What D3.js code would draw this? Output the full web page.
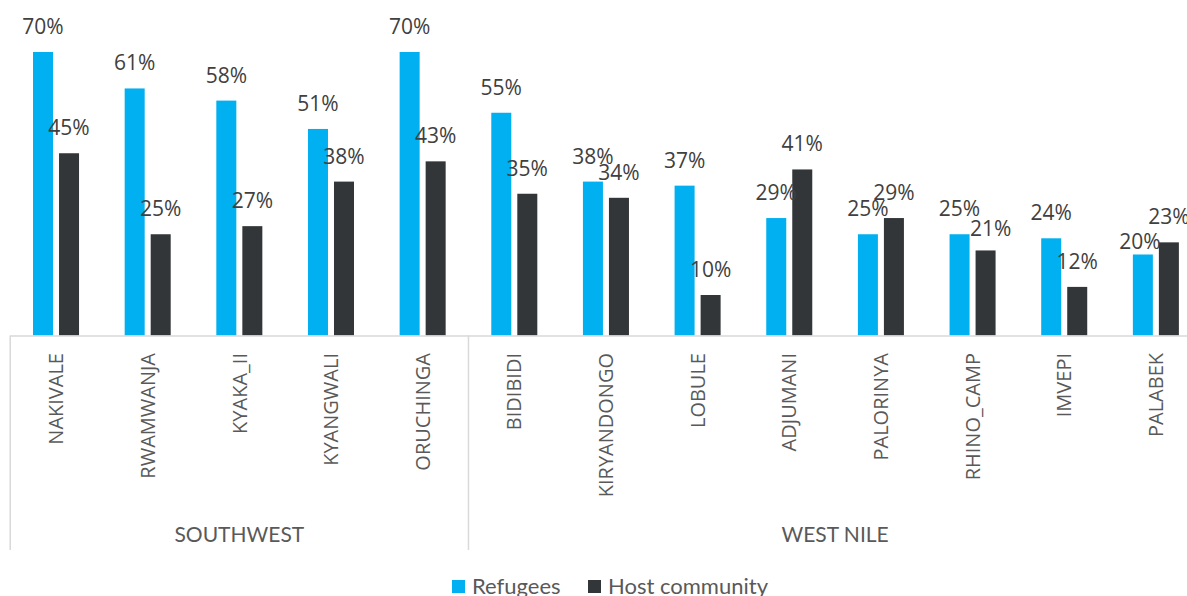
<!DOCTYPE html>
<html>
<head>
<meta charset="utf-8">
<script src="https://cdn.jsdelivr.net/npm/d3@7"></script>
<style>
  html, body { margin: 0; padding: 0; background: #fff; }
  svg { display: block; }
</style>
</head>
<body>
<svg id="chart" width="1187" height="596"></svg>
<script>
// Settlements, grouped by region
const camps = ["NAKIVALE", "RWAMWANJA", "KYAKA_II", "KYANGWALI", "ORUCHINGA",
               "BIDIBIDI", "KIRYANDONGO", "LOBULE", "ADJUMANI", "PALORINYA",
               "RHINO_CAMP", "IMVEPI", "PALABEK"];
const regions = ["SOUTHWEST", "WEST NILE"];
const regionSizes = [5, 8];

// Share (%) per settlement
const refugees = [70, 61, 58, 51, 70, 55, 38, 37, 29, 25, 25, 24, 20];
const hostCommunity = [45, 25, 27, 38, 43, 35, 34, 10, 41, 29, 21, 12, 23];

const seriesNames = ["Refugees", "Host community"];
const seriesColors = ["#00B0F0", "#323638"];

// Small label shifts where labels would otherwise collide [series, index, dx, dy]
const labelShifts = [[1, 10, 5, 4], [0, 12, -3, 12]];

const svg = d3.select("#chart");
const baseY = 335.5;

const x0 = d3.scaleBand().domain(camps).range([10.2, 1201.7]).padding(0);
const x1 = d3.scaleBand().domain(seriesNames).range([0, x0.bandwidth()])
  .paddingInner(0.231).paddingOuter(0.877);
const y = d3.scaleLinear().domain([0, 80]).range([baseY, baseY - 80 * 4.05]);

const seriesData = [refugees, hostCommunity];

// Bars
seriesNames.forEach((s, si) => {
  svg.append("g").selectAll("rect")
    .data(camps)
    .join("rect")
    .attr("x", c => x0(c) + x1(s))
    .attr("y", (c, i) => y(seriesData[si][i]))
    .attr("width", x1.bandwidth())
    .attr("height", (c, i) => baseY - y(seriesData[si][i]))
    .attr("fill", seriesColors[si]);
});

// Value labels
seriesNames.forEach((s, si) => {
  svg.append("g").selectAll("text")
    .data(camps)
    .join("text")
    .attr("x", (c, i) => {
      const sh = labelShifts.find(d => d[0] === si && d[1] === i);
      return x0(c) + x1(s) + x1.bandwidth() / 2 + (sh ? sh[2] : 0);
    })
    .attr("y", (c, i) => {
      const sh = labelShifts.find(d => d[0] === si && d[1] === i);
      return y(seriesData[si][i]) - 18 + (sh ? sh[3] : 0);
    })
    .attr("text-anchor", "middle")
    .attr("font-family", "'Open Sans', sans-serif")
    .attr("font-size", 21)
    .attr("fill", "#404040")
    .text((c, i) => seriesData[si][i] + "%");
});

// Category axis
const axis = svg.append("g");
axis.append("line")
  .attr("x1", x0.range()[0]).attr("x2", x0.range()[1])
  .attr("y1", baseY + 0.5).attr("y2", baseY + 0.5)
  .attr("stroke", "#d9d9d9").attr("stroke-width", 1.5);

axis.selectAll("text.camp")
  .data(camps)
  .join("text")
  .attr("class", "camp")
  .attr("transform", c => `translate(${x0(c) + x0.bandwidth() / 2},353) rotate(-90)`)
  .attr("dy", "0.36em")
  .attr("text-anchor", "end")
  .attr("font-family", "'Open Sans', sans-serif")
  .attr("font-size", 20)
  .attr("fill", "#595959")
  .text(c => c);

// Region brackets
let start = 0;
const regionSpans = regions.map((r, i) => {
  const a = camps[start];
  const b = camps[start + regionSizes[i] - 1];
  start += regionSizes[i];
  return { name: r, x1: x0(a), x2: x0(b) + x0.bandwidth() };
});
const edges = [regionSpans[0].x1, ...regionSpans.map(d => d.x2)];
axis.selectAll("line.sep")
  .data(edges)
  .join("line")
  .attr("class", "sep")
  .attr("x1", d => d).attr("x2", d => d)
  .attr("y1", baseY).attr("y2", 550)
  .attr("stroke", "#d9d9d9").attr("stroke-width", 1.5);

axis.selectAll("text.region")
  .data(regionSpans)
  .join("text")
  .attr("class", "region")
  .attr("x", d => (d.x1 + d.x2) / 2)
  .attr("y", 542)
  .attr("text-anchor", "middle")
  .attr("font-family", "Lato, sans-serif")
  .attr("font-size", 21)
  .attr("fill", "#595959")
  .text(d => d.name);

// Legend
const legendX = [452, 588];
const legend = svg.append("g");
seriesNames.forEach((s, si) => {
  legend.append("rect")
    .attr("x", legendX[si]).attr("y", 580)
    .attr("width", 13).attr("height", 13)
    .attr("fill", seriesColors[si]);
  legend.append("text")
    .attr("x", legendX[si] + 20).attr("y", 594)
    .attr("font-family", "Lato, sans-serif")
    .attr("font-size", 22)
    .attr("fill", "#595959")
    .text(s);
});
</script>
</body>
</html>
